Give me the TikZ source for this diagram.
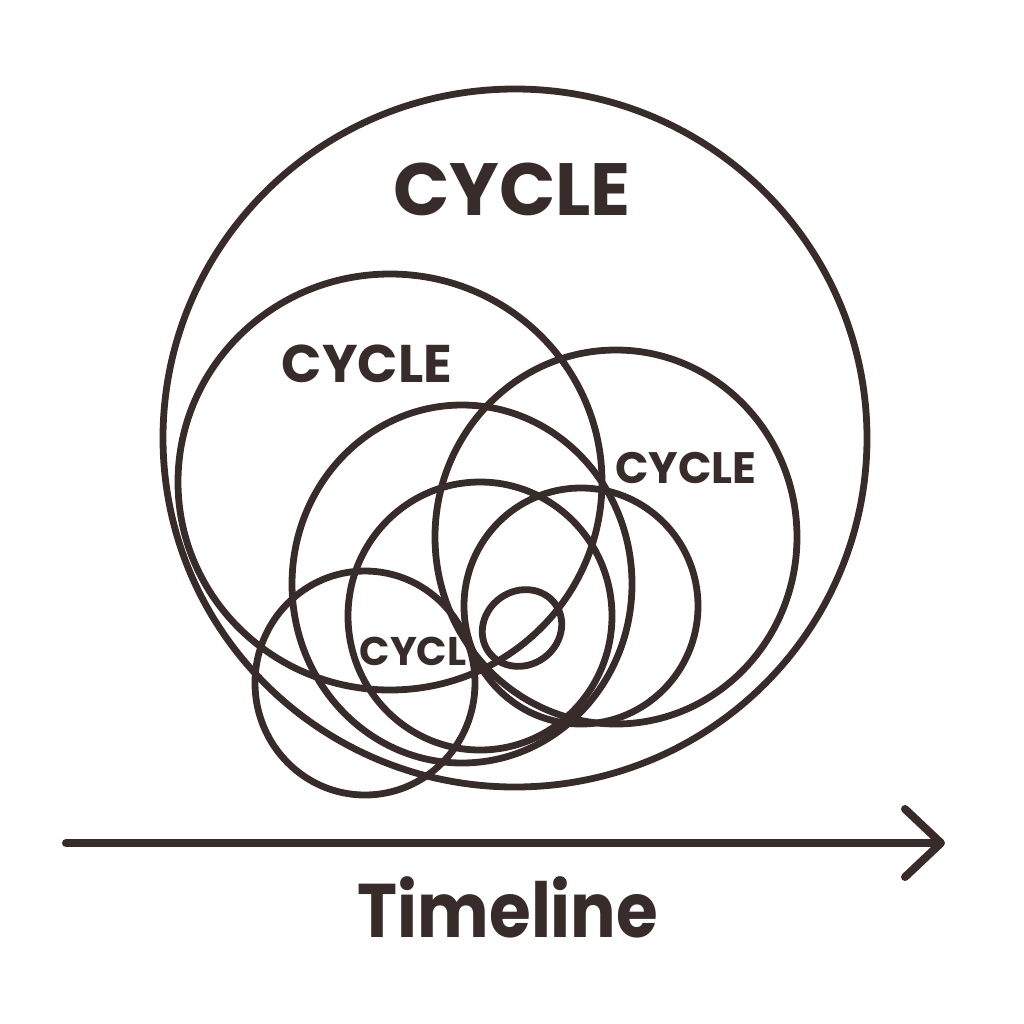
\documentclass[tikz,border=0pt]{standalone}
\usepackage{fontspec}
\setmainfont{Poppins}
\usetikzlibrary{arrows.meta}
\definecolor{cyclebrown}{RGB}{56,44,42}
\tikzset{
  loopline/.style={draw=cyclebrown, line width=3.4pt},
  cyclabel/.style={text=cyclebrown, font=\bfseries\fontsize{#1}{#1}\selectfont,
    anchor=base, inner sep=0pt},
  timearr/.style={-{Straight Barb[length=18pt,width=34pt,round]}, draw=cyclebrown,
    line width=4pt, line cap=round}
}
\begin{document}
\begin{tikzpicture}[x=0.5pt,y=-0.5pt]
  \useasboundingbox (0,0) rectangle (1024,1024);
  % loops, outer to inner
  \draw[loopline] (515,438) ellipse [x radius=352, y radius=349];
  \draw[loopline] (390,482) ellipse [x radius=212, y radius=208];
  \draw[loopline] (616,537) ellipse [x radius=181, y radius=187];
  \draw[loopline] (462,584) ellipse [x radius=170, y radius=179];
  \draw[loopline] (480,616) ellipse [x radius=132, y radius=134];
  \draw[loopline] (581,606) ellipse [x radius=117, y radius=118];
  \draw[loopline] (365,683) ellipse [x radius=110, y radius=112];
  \draw[loopline] (522,628) ellipse [x radius=41, y radius=37, rotate=35];
  % labels
  \node[cyclabel=37pt] (cycbig) at (512,215) {CYCLE};
  \node[cyclabel=26.5pt] (cycmid) at (367,382) {CYCLE};
  \node[cyclabel=22pt] (cycright) at (686,483) {CYCLE};
  \node[cyclabel=20pt] (cycsmall) at (413,665) {CYCL};
  % timeline
  \coordinate (tstart) at (66,843);
  \coordinate (tend) at (945,843);
  \draw[timearr] (tstart) -- (tend);
  \node[cyclabel=38pt] (timeline) at (508,937) {\scalebox{0.89}[1]{Timeline}};
\end{tikzpicture}
\end{document}
